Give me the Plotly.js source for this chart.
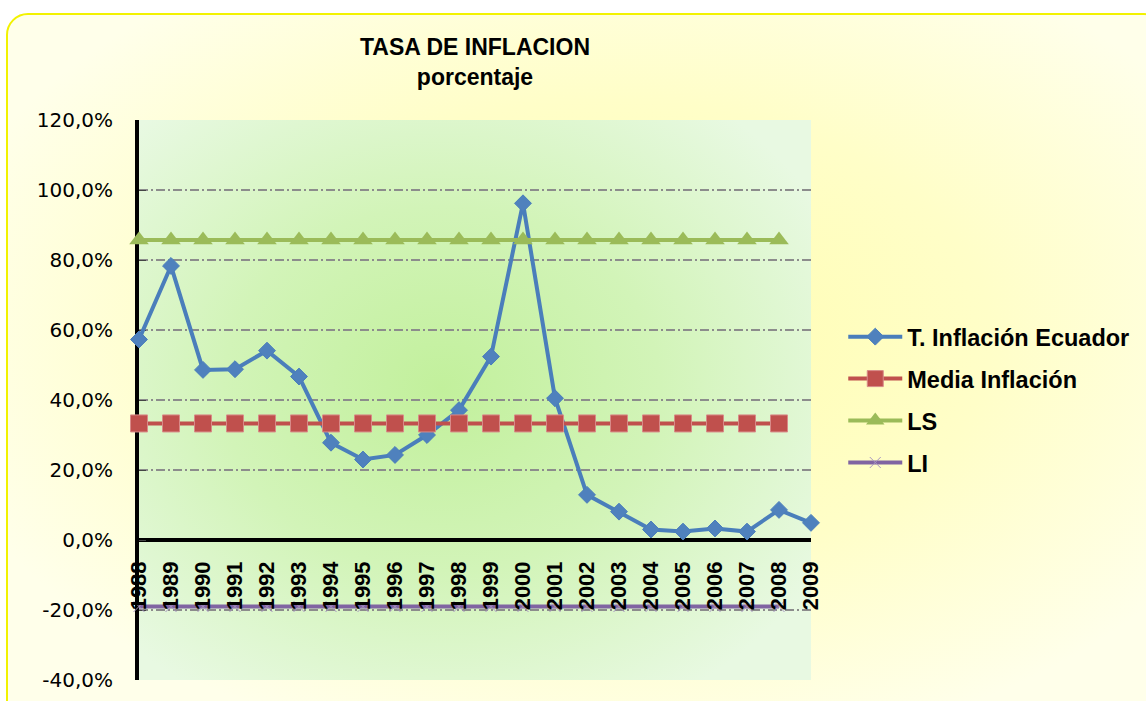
<!DOCTYPE html>
<html>
<head>
<meta charset="utf-8">
<script src="https://cdn.plot.ly/plotly-3.0.1.min.js"></script>
<style>
  html, body { margin: 0; padding: 0; background: #ffffff; overflow: hidden; }
  #frame {
    position: absolute; left: 6px; top: 13px; width: 1160px; height: 720px;
    border: 2px solid #F2F200; border-radius: 22px; box-sizing: border-box;
    background: radial-gradient(ellipse 60% 60% at 52% 45%, #FFFDAE 0%, #FFFEC8 55%, #FFFFEA 100%);
  }
  #plotbg {
    position: absolute; left: 139px; top: 120px; width: 672px; height: 560px;
    background: radial-gradient(ellipse 65% 65% at 45% 48%, #C2F09C 0%, #D2F4B8 50%, #E8F9E2 100%);
  }
  #chart { position: absolute; left: 0; top: 0; width: 1146px; height: 701px; }
</style>
</head>
<body>
<div id="frame"></div>
<div id="plotbg"></div>
<div id="chart"></div>
<script>
const years = ['1988','1989','1990','1991','1992','1993','1994','1995','1996','1997','1998',
               '1999','2000','2001','2002','2003','2004','2005','2006','2007','2008','2009'];
const inflacion = [57.3, 78.3, 48.6, 48.8, 54.1, 46.7, 27.8, 23.0, 24.3, 30.0, 37.1,
                   52.4, 96.2, 40.5, 12.9, 8.1, 3.0, 2.4, 3.3, 2.4, 8.6, 4.9];
const limitYears = years.slice(0, 21);
const media = [33.3,33.3,33.3,33.3,33.3,33.3,33.3,33.3,33.3,33.3,33.3,
               33.3,33.3,33.3,33.3,33.3,33.3,33.3,33.3,33.3,33.3];
const ls = [85.7,85.7,85.7,85.7,85.7,85.7,85.7,85.7,85.7,85.7,85.7,
            85.7,85.7,85.7,85.7,85.7,85.7,85.7,85.7,85.7,85.7];
const li = [-19.0,-19.0,-19.0,-19.0,-19.0,-19.0,-19.0,-19.0,-19.0,-19.0,-19.0,
            -19.0,-19.0,-19.0,-19.0,-19.0,-19.0,-19.0,-19.0,-19.0,-19.0];
const yTicks = [-40, -20, 0, 20, 40, 60, 80, 100, 120];
const yTickText = ['-40,0%', '-20,0%', '0,0%', '20,0%', '40,0%', '60,0%', '80,0%', '100,0%', '120,0%'];

const traces = [
  { x: years, y: inflacion, name: 'T. Inflación Ecuador', type: 'scatter', mode: 'lines+markers',
    legendgroup: 'a', cliponaxis: false,
    line: { color: '#4A7EBB', width: 4 },
    marker: { symbol: 'diamond', size: 13, color: '#4F81BD', line: { color: '#4A7EBB', width: 1 } } },
  { x: limitYears, y: media, name: 'Media Inflación', type: 'scatter', mode: 'lines+markers',
    legendgroup: 'b', cliponaxis: false,
    line: { color: '#C0504D', width: 4 },
    marker: { symbol: 'square', size: 17, color: '#C0504D', line: { color: '#D88A88', width: 1 } } },
  { x: limitYears, y: ls, name: 'LS', type: 'scatter', mode: 'lines+markers',
    legendgroup: 'c', cliponaxis: false,
    line: { color: '#9BBB59', width: 4 },
    marker: { symbol: 'triangle-up', size: 17, color: '#9BBB59' } },
  { x: limitYears, y: li, name: 'LI', type: 'scatter', mode: 'lines+markers',
    legendgroup: 'd', cliponaxis: false,
    line: { color: '#8064A2', width: 4 },
    marker: { symbol: 'x-thin', size: 11, color: '#A795C0', line: { color: '#A795C0', width: 1 } } }
];

const layout = {
  width: 1146, height: 701,
  margin: { l: 139, r: 335, t: 120, b: 21, pad: 0 },
  paper_bgcolor: 'rgba(0,0,0,0)',
  plot_bgcolor: 'rgba(0,0,0,0)',
  font: { family: 'Liberation Sans, Arial, sans-serif', color: '#000' },
  title: {
    text: 'TASA DE INFLACION<br>porcentaje',
    font: { family: 'Liberation Sans, Arial, sans-serif', size: 23, weight: 'bold', color: '#000' },
    x: 0.5, xref: 'paper', xanchor: 'center',
    y: 1 - 55 / 701, yref: 'container', yanchor: 'middle'
  },
  xaxis: {
    type: 'category', range: [0, 21],
    anchor: 'free', position: 0.25,
    showgrid: false, zeroline: false, showline: false,
    ticks: '', tickangle: -90, ticklabelstandoff: 16,
    tickfont: { family: 'Liberation Sans, Arial, sans-serif', size: 22, weight: 'bold', color: '#000' },
    fixedrange: true
  },
  yaxis: {
    range: [-40, 120], tickvals: yTicks, ticktext: yTickText,
    showgrid: true, gridcolor: '#8C8C8C', gridwidth: 1.5, griddash: '9px,3px,2px,3px',
    zeroline: true, zerolinecolor: '#000', zerolinewidth: 4,
    showline: true, linecolor: '#000', linewidth: 4,
    ticks: 'inside', ticklen: 7, tickcolor: '#444', tickwidth: 1,
    ticklabelstandoff: 18,
    tickfont: { family: 'DejaVu Sans, Verdana, sans-serif', size: 20, color: '#000' },
    layer: 'below traces',
    fixedrange: true
  },
  showlegend: true,
  legend: {
    x: 1.048, xanchor: 'left', y: 0.652, yanchor: 'top',
    bgcolor: 'rgba(0,0,0,0)', borderwidth: 0,
    traceorder: 'grouped', tracegroupgap: 8.4, itemwidth: 54,
    font: { family: 'Liberation Sans, Arial, sans-serif', size: 23.5, weight: 'bold', color: '#000' }
  }
};

Plotly.newPlot('chart', traces, layout, { displayModeBar: false, staticPlot: true });
</script>
</body>
</html>
